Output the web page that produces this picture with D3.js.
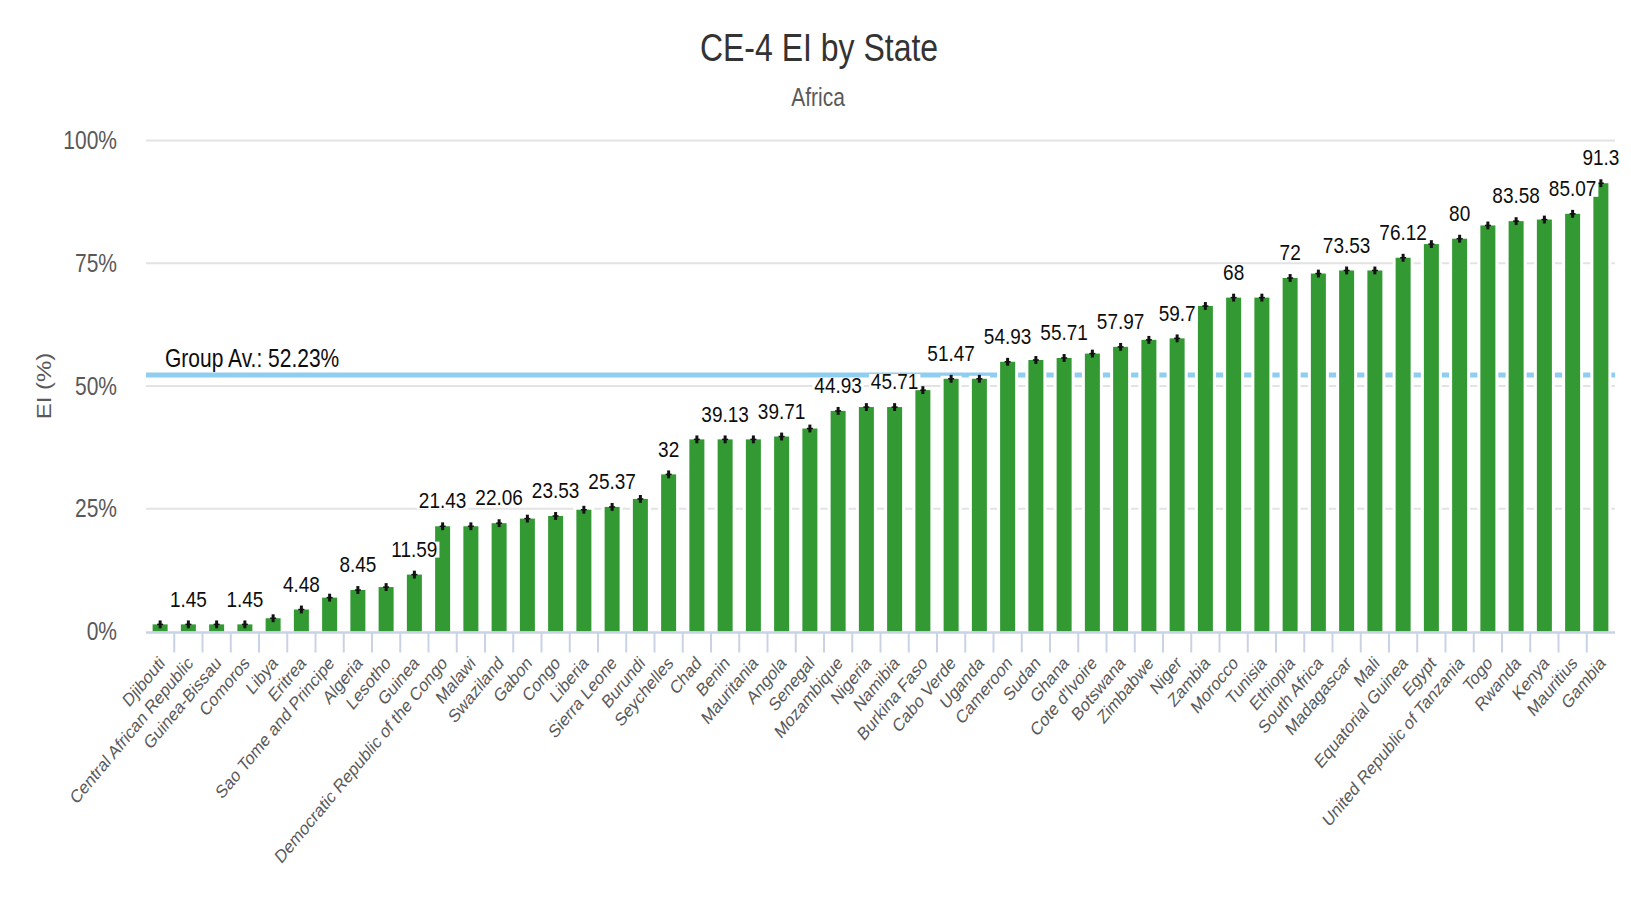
<!DOCTYPE html>
<html>
<head>
<meta charset="utf-8">
<script src="https://cdn.jsdelivr.net/npm/d3@7"></script>
<style>
  body { margin: 0; background: #fff; font-family: "Liberation Sans", Arial, sans-serif; }
</style>
</head>
<body>
<div id="chart"></div>
<script>
// chart data
var states = ["Djibouti", "Central African Republic", "Guinea-Bissau", "Comoros", "Libya", "Eritrea",
  "Sao Tome and Principe", "Algeria", "Lesotho", "Guinea", "Democratic Republic of the Congo", "Malawi",
  "Swaziland", "Gabon", "Congo", "Liberia", "Sierra Leone", "Burundi", "Seychelles", "Chad", "Benin",
  "Mauritania", "Angola", "Senegal", "Mozambique", "Nigeria", "Namibia", "Burkina Faso", "Cabo Verde",
  "Uganda", "Cameroon", "Sudan", "Ghana", "Cote d'Ivoire", "Botswana", "Zimbabwe", "Niger", "Zambia",
  "Morocco", "Tunisia", "Ethiopia", "South Africa", "Madagascar", "Mali", "Equatorial Guinea", "Egypt",
  "United Republic of Tanzania", "Togo", "Rwanda", "Kenya", "Mauritius", "Gambia"];

var eiValues = [1.45, 1.45, 1.45, 1.45, 2.7, 4.48,
  6.9, 8.45, 9.05, 11.59, 21.43, 21.43,
  22.06, 22.99, 23.53, 24.8, 25.37, 27.0, 32, 39.13, 39.13,
  39.13, 39.71, 41.34, 44.93, 45.71, 45.71, 49.16, 51.47,
  51.47, 54.93, 55.3, 55.71, 56.6, 57.97, 59.4, 59.7, 66.3,
  68, 68, 72, 72.9, 73.53, 73.53, 76.12, 78.9,
  80, 82.7, 83.58, 83.9, 85.07, 91.3];

// states whose value label is visible in the reference
var labelledStates = ["Central African Republic", "Comoros", "Eritrea", "Algeria", "Guinea",
  "Democratic Republic of the Congo", "Swaziland", "Congo", "Sierra Leone", "Seychelles", "Benin",
  "Angola", "Mozambique", "Namibia", "Cabo Verde", "Cameroon", "Ghana", "Botswana", "Niger",
  "Morocco", "Ethiopia", "Madagascar", "Equatorial Guinea", "United Republic of Tanzania",
  "Rwanda", "Mauritius", "Gambia"];

var yTicks = [0, 25, 50, 75, 100];
var groupAverage = 52.23;
var errorMargin = 0.8;

var chartTitle = "CE-4 EI by State";
var chartSubtitle = "Africa";
var yTitle = "EI (%)";

// layout
var width = 1631, height = 899;
var plot = {left: 146, right: 1615, top: 140.5, bottom: 631.5};
var stretch = 1.2; // the reference text is drawn a little taller than wide

var data = states.map(function(s, i) { return {state: s, value: eiValues[i]}; });

var x = d3.scaleBand()
    .domain(states)
    .range([plot.left, plot.right]);

var y = d3.scaleLinear()
    .domain([0, 100])
    .range([plot.bottom, plot.top]);

var svg = d3.select("#chart").append("svg")
    .attr("width", width)
    .attr("height", height)
    .style("display", "block");

svg.append("rect")
    .attr("width", width).attr("height", height)
    .attr("fill", "#fff");

function place(sel, px, py, rot) {
  sel.attr("transform", "translate(" + px + "," + py + ") scale(1," + stretch + ")" +
    (rot ? " rotate(" + rot + ")" : ""));
  return sel;
}

// titles
place(svg.append("text"), 819, 47)
    .attr("text-anchor", "middle")
    .attr("dominant-baseline", "central")
    .style("font-size", "32px")
    .style("fill", "#333")
    .text(chartTitle);

place(svg.append("text"), 818, 97)
    .attr("text-anchor", "middle")
    .attr("dominant-baseline", "central")
    .style("font-size", "21px")
    .style("fill", "#595959")
    .text(chartSubtitle);

// gridlines
svg.append("g").selectAll("line")
    .data(yTicks.filter(function(t) { return t > 0; }))
  .enter().append("line")
    .attr("x1", plot.left).attr("x2", plot.right)
    .attr("y1", function(d) { return y(d); })
    .attr("y2", function(d) { return y(d); })
    .attr("stroke", "#e3e3e3")
    .attr("stroke-width", 2);

// y tick labels
svg.append("g").selectAll("text")
    .data(yTicks)
  .enter().append("text")
    .each(function(d) { place(d3.select(this), 117, y(d)); })
    .attr("text-anchor", "end")
    .attr("dominant-baseline", "central")
    .style("font-size", "21px")
    .style("fill", "#595959")
    .text(function(d) { return d + "%"; });

place(svg.append("text"), 44, 386, -90)
    .attr("text-anchor", "middle")
    .attr("dominant-baseline", "central")
    .style("font-size", "20px")
    .style("fill", "#595959")
    .text(yTitle);

// group average line
svg.append("line")
    .attr("x1", plot.left).attr("x2", plot.right)
    .attr("y1", y(groupAverage)).attr("y2", y(groupAverage))
    .attr("stroke", "#8fcdf1")
    .attr("stroke-width", 5);

// bars, each with a thin white margin around it
var barW = 15, gap = 3;
svg.append("g").selectAll("rect")
    .data(data)
  .enter().append("rect")
    .attr("x", function(d) { return x(d.state) + x.bandwidth() / 2 - barW / 2 - gap; })
    .attr("y", function(d) { return y(d.value) - gap; })
    .attr("width", barW + 2 * gap)
    .attr("height", function(d) { return plot.bottom - y(d.value) + gap; })
    .attr("fill", "#fff");

svg.append("g").selectAll("rect")
    .data(data)
  .enter().append("rect")
    .attr("x", function(d) { return x(d.state) + x.bandwidth() / 2 - barW / 2; })
    .attr("y", function(d) { return y(d.value); })
    .attr("width", barW)
    .attr("height", function(d) { return plot.bottom - y(d.value); })
    .attr("fill", "#339933");

// error bars
var err = svg.append("g").selectAll("g")
    .data(data)
  .enter().append("g")
    .attr("stroke", "#111");

err.append("line")
    .attr("x1", function(d) { return x(d.state) + x.bandwidth() / 2; })
    .attr("x2", function(d) { return x(d.state) + x.bandwidth() / 2; })
    .attr("y1", function(d) { return y(d.value + errorMargin); })
    .attr("y2", function(d) { return y(d.value - errorMargin); })
    .attr("stroke-width", 3);

err.append("line")
    .attr("x1", function(d) { return x(d.state) + x.bandwidth() / 2 - 3; })
    .attr("x2", function(d) { return x(d.state) + x.bandwidth() / 2 + 3; })
    .attr("y1", function(d) { return y(d.value); })
    .attr("y2", function(d) { return y(d.value); })
    .attr("stroke-width", 1.5);

// value labels with white boxes behind them
var labels = svg.append("g").selectAll("g")
    .data(data.filter(function(d) { return labelledStates.indexOf(d.state) >= 0; }))
  .enter().append("g");

labels.append("text")
    .each(function(d) { place(d3.select(this), x(d.state) + x.bandwidth() / 2, y(d.value) - 26); })
    .attr("text-anchor", "middle")
    .attr("dominant-baseline", "central")
    .style("font-size", "19px")
    .style("fill", "#0d0d0d")
    .text(function(d) { return String(d.value); });

labels.insert("rect", "text")
    .each(function(d) {
      var w = this.parentNode.querySelector("text").getComputedTextLength();
      d3.select(this)
        .attr("x", x(d.state) + x.bandwidth() / 2 - w / 2 - 2)
        .attr("y", y(d.value) - 26 - 7)
        .attr("width", w + 4)
        .attr("height", 16)
        .attr("fill", "#fff");
    });

// group average label
place(svg.append("text"), 165, 358)
    .attr("dominant-baseline", "central")
    .style("font-size", "21px")
    .style("fill", "#0d0d0d")
    .text("Group Av.: " + groupAverage + "%");

// x axis
svg.append("line")
    .attr("x1", plot.left).attr("x2", plot.right)
    .attr("y1", plot.bottom + 1).attr("y2", plot.bottom + 1)
    .attr("stroke", "#c9d3e6")
    .attr("stroke-width", 2.5);

svg.append("g").selectAll("line")
    .data(states.slice(1))
  .enter().append("line")
    .attr("x1", function(d) { return x(d); })
    .attr("x2", function(d) { return x(d); })
    .attr("y1", plot.bottom + 1)
    .attr("y2", plot.bottom + 21)
    .attr("stroke", "#c9d3e6")
    .attr("stroke-width", 2);

svg.append("g").selectAll("text")
    .data(states)
  .enter().append("text")
    .each(function(d) { place(d3.select(this), x(d) + x.bandwidth() / 2 + 2, 660, -45); })
    .attr("text-anchor", "end")
    .attr("dominant-baseline", "central")
    .style("font-size", "15.5px")
    .style("fill", "#595959")
    .text(function(d) { return d; });
</script>
</body>
</html>
